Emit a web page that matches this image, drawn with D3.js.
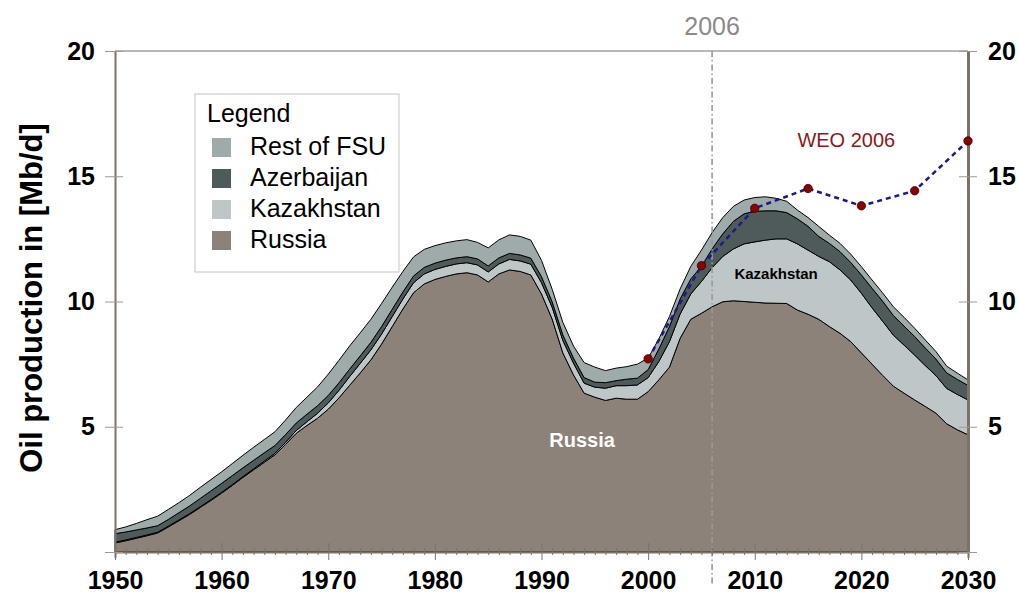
<!doctype html>
<html lang="en">
<head>
<meta charset="UTF-8">
<title>FSU oil production</title>
<script src="https://cdnjs.cloudflare.com/ajax/libs/d3/7.8.5/d3.min.js"></script>
<style>
    body { margin: 0; background: #fff; }
    svg text { font-family: "Liberation Sans", Arial, Helvetica, sans-serif; }
</style>
</head>
<body>
<svg id="chart" width="1019" height="593"></svg>
<script>
// annual values 1950..2030, Mb/d
var years = d3.range(1950, 2031);

var russia = [
    0.36, 0.45, 0.55, 0.65, 0.76, 1.00, 1.25, 1.50, 1.78, 2.06,
    2.35, 2.66, 2.98, 3.28, 3.58, 3.88, 4.30, 4.74, 5.05, 5.34,
    5.70, 6.15, 6.65, 7.15, 7.67, 8.30, 9.00, 9.70, 10.35, 10.70,
    10.88, 11.00, 11.10, 11.15, 11.06, 10.78, 11.10, 11.26, 11.20, 11.06,
    10.30, 9.30, 7.95, 7.07, 6.34, 6.18, 6.05, 6.14, 6.10, 6.10,
    6.40, 6.87, 7.38, 8.53, 9.29, 9.53, 9.79, 9.99, 10.03, 10.00,
    9.97, 9.94, 9.93, 9.92, 9.66, 9.49, 9.29, 9.00, 8.73, 8.40,
    7.95, 7.50, 7.05, 6.62, 6.34, 6.07, 5.81, 5.54, 5.12, 4.88,
    4.68
];
var kazakhstan = [
    0.03, 0.03, 0.03, 0.03, 0.03, 0.03, 0.03, 0.03, 0.03, 0.03,
    0.03, 0.03, 0.03, 0.04, 0.05, 0.06, 0.08, 0.11, 0.15, 0.20,
    0.25, 0.30, 0.35, 0.38, 0.40, 0.40, 0.40, 0.40, 0.40, 0.40,
    0.40, 0.40, 0.40, 0.40, 0.40, 0.40, 0.40, 0.42, 0.42, 0.43,
    0.45, 0.47, 0.50, 0.47, 0.40, 0.40, 0.49, 0.50, 0.54, 0.57,
    0.56, 0.73, 1.02, 0.97, 1.01, 1.27, 1.56, 1.81, 2.07, 2.30,
    2.41, 2.51, 2.57, 2.58, 2.64, 2.56, 2.51, 2.59, 2.53, 2.46,
    2.38, 2.25, 2.16, 2.04, 1.92, 1.79, 1.63, 1.50, 1.41, 1.41,
    1.39
];
var azerbaijan = [
    0.34, 0.32, 0.30, 0.28, 0.26, 0.27, 0.29, 0.31, 0.33, 0.35,
    0.36, 0.36, 0.35, 0.34, 0.33, 0.31, 0.31, 0.30, 0.30, 0.30,
    0.30, 0.30, 0.30, 0.30, 0.30, 0.30, 0.29, 0.28, 0.27, 0.26,
    0.25, 0.25, 0.24, 0.24, 0.24, 0.24, 0.24, 0.24, 0.24, 0.24,
    0.24, 0.22, 0.22, 0.20, 0.22, 0.20, 0.22, 0.20, 0.26, 0.27,
    0.32, 0.50, 0.60, 0.60, 0.60, 0.60, 0.75, 0.90, 1.10, 1.20,
    1.22, 1.17, 1.12, 1.05, 1.00, 0.95, 0.80, 0.73, 0.73, 0.70,
    0.73, 0.78, 0.80, 0.78, 0.76, 0.74, 0.70, 0.66, 0.62, 0.60,
    0.58
];
var restFSU = [
    0.16, 0.20, 0.26, 0.33, 0.38, 0.40, 0.40, 0.42, 0.44, 0.45,
    0.46, 0.48, 0.50, 0.52, 0.53, 0.55, 0.58, 0.62, 0.68, 0.75,
    0.85, 0.90, 0.92, 0.92, 0.92, 0.92, 0.88, 0.82, 0.76, 0.72,
    0.70, 0.69, 0.68, 0.68, 0.66, 0.72, 0.72, 0.74, 0.74, 0.72,
    0.65, 0.50, 0.50, 0.48, 0.60, 0.60, 0.48, 0.50, 0.50, 0.56,
    0.46, 0.40, 0.40, 0.40, 0.50, 0.65, 0.65, 0.65, 0.60, 0.55,
    0.55, 0.56, 0.50, 0.45, 0.35, 0.35, 0.40, 0.33, 0.33, 0.33,
    0.33, 0.33, 0.33, 0.35, 0.35, 0.33, 0.32, 0.30, 0.27, 0.25,
    0.22
];

// WEO 2006 projection points
var weoYears = [2000, 2005, 2010, 2015, 2020, 2025, 2030];
var weoValues = [7.71, 11.43, 13.72, 14.51, 13.82, 14.42, 16.41];

var yTicks = [0, 5, 10, 15, 20];
var decadeTicks = [1950, 1960, 1970, 1980, 1990, 2000, 2010, 2020, 2030];

var seriesKeys = ["Russia", "Kazakhstan", "Azerbaijan", "Rest of FSU"];
var seriesColors = {
    "Russia": "#8c8279",
    "Kazakhstan": "#bec7c8",
    "Azerbaijan": "#4f5b5b",
    "Rest of FSU": "#9faaaa"
};

var rows = years.map(function (yr, i) {
    return {
        year: yr,
        "Russia": russia[i],
        "Kazakhstan": kazakhstan[i],
        "Azerbaijan": azerbaijan[i],
        "Rest of FSU": restFSU[i]
    };
});

var svg = d3.select("#chart");
var plotLeft = 115, plotRight = 968, plotTop = 51, plotBottom = 552;

var x = d3.scaleLinear().domain([1950, 2030]).range([plotLeft, plotRight]);
var y = d3.scaleLinear().domain([0, 20]).range([plotBottom, plotTop]);

var stacked = d3.stack().keys(seriesKeys)(rows);

var area = d3.area()
    .x(function (d) { return x(d.data.year); })
    .y0(function (d) { return y(d[0]); })
    .y1(function (d) { return y(d[1]); });

svg.append("g").selectAll("path")
    .data(stacked)
    .enter().append("path")
    .attr("d", area)
    .attr("fill", function (d) { return seriesColors[d.key]; })
    .attr("stroke", "#000")
    .attr("stroke-width", 1)
    .attr("stroke-linejoin", "round");

// top frame
svg.append("line")
    .attr("x1", plotLeft).attr("x2", plotRight)
    .attr("y1", plotTop).attr("y2", plotTop)
    .attr("stroke", "#b8b8b8").attr("stroke-width", 2);

// 2006 marker
svg.append("line")
    .attr("x1", x(2006)).attr("x2", x(2006))
    .attr("y1", plotTop).attr("y2", 585)
    .attr("stroke", "#999").attr("stroke-width", 1.6)
    .attr("stroke-dasharray", "6,3,1.5,3");

svg.append("text")
    .attr("x", x(2006)).attr("y", 35)
    .attr("text-anchor", "middle")
    .attr("font-size", "25px")
    .attr("fill", "#8a8a8a")
    .text("2006");

// axes
var axisColor = "#7d7268";

var xAxis = svg.append("g")
    .attr("transform", "translate(0," + plotBottom + ")")
    .call(d3.axisBottom(x)
        .tickValues(years)
        .tickFormat(function (d) { return decadeTicks.indexOf(d) >= 0 ? d : ""; }));
xAxis.select(".domain").attr("stroke", axisColor).attr("stroke-width", 2);
xAxis.selectAll(".tick line")
    .attr("stroke", axisColor)
    .attr("y1", function (d) { return decadeTicks.indexOf(d) >= 0 ? -9 : -4; })
    .attr("y2", function (d) { return decadeTicks.indexOf(d) >= 0 ? 8 : 3; });
xAxis.selectAll(".tick text")
    .attr("y", 37).attr("dy", null)
    .attr("font-size", "25px").attr("font-weight", "bold")
    .attr("fill", "#000");

function styleY(g, side) {
    g.select(".domain").attr("stroke", axisColor).attr("stroke-width", side === "left" ? 2 : 3);
    g.selectAll(".tick line")
        .attr("stroke", "#a09890")
        .attr("x1", side === "left" ? -10 : -9)
        .attr("x2", side === "left" ? 8 : 9);
    g.selectAll(".tick text")
        .attr("x", side === "left" ? -20 : 20)
        .attr("font-size", "25px").attr("font-weight", "bold")
        .attr("fill", "#000");
}

var yFmt = function (d) { return d === 0 ? "" : d; };

var yLeft = svg.append("g")
    .attr("transform", "translate(" + plotLeft + ",0)")
    .call(d3.axisLeft(y).tickValues(yTicks).tickFormat(yFmt).tickSizeOuter(0));
styleY(yLeft, "left");

var yRight = svg.append("g")
    .attr("transform", "translate(" + plotRight + ",0)")
    .call(d3.axisRight(y).tickValues(yTicks).tickFormat(yFmt).tickSizeOuter(0));
styleY(yRight, "right");

svg.append("text")
    .attr("transform", "translate(42,298) rotate(-90)")
    .attr("text-anchor", "middle")
    .attr("font-size", "31px").attr("font-weight", "bold")
    .text("Oil production in [Mb/d]");

// labels inside the areas
svg.append("text")
    .attr("x", x(1993.8)).attr("y", y(4.21))
    .attr("text-anchor", "middle")
    .attr("font-size", "20px").attr("font-weight", "bold")
    .attr("fill", "#fff")
    .text("Russia");

svg.append("text")
    .attr("x", x(2012)).attr("y", y(10.89))
    .attr("text-anchor", "middle")
    .attr("font-size", "15px").attr("font-weight", "bold")
    .attr("fill", "#000")
    .text("Kazakhstan");

// WEO 2006 projection
var weo = weoYears.map(function (yr, i) { return { year: yr, value: weoValues[i] }; });

svg.append("path")
    .datum(weo)
    .attr("d", d3.line()
        .x(function (d) { return x(d.year); })
        .y(function (d) { return y(d.value); }))
    .attr("fill", "none")
    .attr("stroke", "#1a1a8c")
    .attr("stroke-width", 2.5)
    .attr("stroke-dasharray", "5,4");

svg.append("g").selectAll("circle")
    .data(weo)
    .enter().append("circle")
    .attr("cx", function (d) { return x(d.year); })
    .attr("cy", function (d) { return y(d.value); })
    .attr("r", 4.2)
    .attr("fill", "#8b0000")
    .attr("stroke", "#3a0000")
    .attr("stroke-width", 0.8);

svg.append("text")
    .attr("x", x(2014)).attr("y", y(16.16))
    .attr("font-size", "20px")
    .attr("fill", "#8b1a1a")
    .text("WEO 2006");

// legend
var legend = svg.append("g").attr("transform", "translate(195,94)");
legend.append("rect")
    .attr("width", 204).attr("height", 178)
    .attr("fill", "#fff")
    .attr("stroke", "#c4c4c4").attr("stroke-width", 1);
legend.append("text")
    .attr("x", 12).attr("y", 28)
    .attr("font-size", "25px")
    .text("Legend");

var legendKeys = seriesKeys.slice().reverse();
var item = legend.selectAll(".item")
    .data(legendKeys)
    .enter().append("g")
    .attr("transform", function (d, i) { return "translate(17," + (44 + i * 31) + ")"; });
item.append("rect")
    .attr("width", 19).attr("height", 19)
    .attr("fill", function (d) { return seriesColors[d]; });
item.append("text")
    .attr("x", 38).attr("y", 17)
    .attr("font-size", "25px")
    .text(function (d) { return d; });
</script>
</body>
</html>
